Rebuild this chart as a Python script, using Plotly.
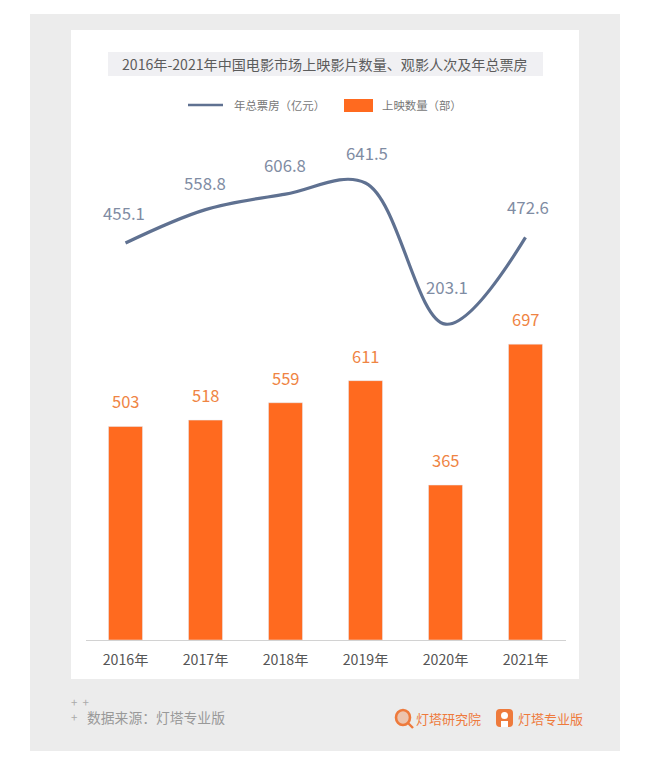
import plotly.graph_objects as go

W = 658
H = 768

years = ["2016年", "2017年", "2018年", "2019年", "2020年", "2021年"]
box_office = [455.1, 558.8, 606.8, 641.5, 203.1, 472.6]
film_count = [503, 518, 559, 611, 365, 697]
title_text = "2016年-2021年中国电影市场上映影片数量、观影人次及年总票房"
line_name = "年总票房（亿元）"
bar_name = "上映数量（部）"
source_text = "数据来源：灯塔专业版"
brand_names = ["灯塔研究院", "灯塔专业版"]

FONT = "Noto Sans CJK SC"
ORANGE = "#ff6a1f"
SLATE = "#5f7191"
BRAND = "#ee7a3c"

# the line labels are not all the same distance from the curve
label_dx = [-2, -1, -1, 1, 1, 2]
label_dy = [30, 27, 29, 30, 37, 30]


def px(x):
    return x / W


def py(y):
    return 1 - y / H


def rect(x0, y0, x1, y1, color):
    return dict(type="rect", xref="paper", yref="paper", x0=px(x0), x1=px(x1), y0=py(y0), y1=py(y1),
                fillcolor=color, line_width=0, layer="below")


def note(x, y, text, size, color, anchor="left"):
    return dict(xref="paper", yref="paper", x=px(x), y=py(y), text=text, showarrow=False, xanchor=anchor,
                align=anchor, yanchor="middle", font=dict(family=FONT, size=size, color=color))


def rounded(x0, y0, x1, y1, r):
    # rounded square for the second logo
    p = [f"M{px(x0 + r)},{py(y0)}", f"L{px(x1 - r)},{py(y0)}", f"Q{px(x1)},{py(y0)} {px(x1)},{py(y0 + r)}",
         f"L{px(x1)},{py(y1 - r)}", f"Q{px(x1)},{py(y1)} {px(x1 - r)},{py(y1)}", f"L{px(x0 + r)},{py(y1)}",
         f"Q{px(x0)},{py(y1)} {px(x0)},{py(y1 - r)}", f"L{px(x0)},{py(y0 + r)}",
         f"Q{px(x0)},{py(y0)} {px(x0 + r)},{py(y0)}", "Z"]
    return " ".join(p)


fig = go.Figure()
fig.add_trace(go.Bar(x=years, y=film_count, name=bar_name, marker_color=ORANGE, showlegend=False, yaxis="y"))
fig.add_trace(go.Scatter(x=years, y=box_office, name=line_name, mode="lines", showlegend=False, yaxis="y2",
                         line=dict(color=SLATE, width=3.2, shape="spline", smoothing=1.0)))

annotations = []
for year, value, dx, dy in zip(years, box_office, label_dx, label_dy):
    annotations.append(dict(x=year, y=value, xref="x", yref="y2", xshift=dx, yshift=dy, text=str(value),
                            showarrow=False, yanchor="middle",
                            font=dict(family=FONT, size=16.8, color="#7f8ca3")))
for year, value in zip(years, film_count):
    annotations.append(dict(x=year, y=value, xref="x", yref="y", yshift=25, text=str(value), showarrow=False,
                            yanchor="middle", font=dict(family=FONT, size=16.5, color="#ef8443")))

annotations += [
    note(325, 64, title_text, 14.1, "#5c5c5c", "center"),
    note(231.5, 105, line_name, 11.4, "#777777"),
    note(379.5, 105, bar_name, 11.4, "#777777"),
    # the plus marks share one text block so the two rows do not collide
    note(69, 709.5, "+&nbsp;&nbsp;+<br>+", 11.5, "#aaaaaa"),
    note(85, 717, source_text, 13.8, "#999999"),
    note(414, 718, brand_names[0], 13, BRAND),
    note(516, 718, brand_names[1], 13, BRAND),
]

shapes = [
    rect(30, 14, 620, 751, "#ececec"),
    rect(71, 30, 579, 679, "#ffffff"),
    rect(108, 52, 543, 76, "#f0f0f3"),
    dict(type="line", xref="paper", yref="paper", x0=px(188), x1=px(223), y0=py(105), y1=py(105),
         line=dict(color=SLATE, width=2.4)),
    rect(344, 99, 373, 112, ORANGE),
    # logos
    dict(type="circle", xref="paper", yref="paper", x0=px(396), x1=px(410), y0=py(710), y1=py(725),
         fillcolor="rgba(238,122,60,0.35)", line=dict(color=BRAND, width=2.6)),
    dict(type="line", xref="paper", yref="paper", x0=px(408), x1=px(413), y0=py(723), y1=py(728),
         line=dict(color=BRAND, width=2.4)),
    dict(type="path", xref="paper", yref="paper", path=rounded(496, 709, 513, 727, 4), fillcolor=BRAND, line_width=0),
    dict(type="circle", xref="paper", yref="paper", x0=px(501), x1=px(508), y0=py(712), y1=py(719),
         fillcolor="#ffffff", line_width=0),
    dict(type="rect", xref="paper", yref="paper", x0=px(501), x1=px(508), y0=py(721), y1=py(727),
         fillcolor="#ffffff", line_width=0),
]

fig.update_layout(
    width=W,
    height=H,
    margin=dict(l=0, r=0, t=0, b=0),
    paper_bgcolor="#ffffff",
    plot_bgcolor="rgba(0,0,0,0)",
    autosize=False,
    showlegend=False,
    bargap=0.575,
    shapes=shapes,
    annotations=annotations,
    xaxis=dict(domain=[px(85.5), px(565.5)], type="category", range=[-0.5, 5.5], showgrid=False, zeroline=False,
               showline=True, linecolor="#d2d2d2", linewidth=1.2, ticks="", ticklabelstandoff=7,
               tickfont=dict(family=FONT, size=14.2, color="#555555")),
    yaxis=dict(domain=[py(640), py(120)], range=[0, 1225], visible=False),
    yaxis2=dict(domain=[py(640), py(120)], range=[-777.8, 837.1], overlaying="y", visible=False),
)

fig.write_html("out.html", post_script="document.body.style.margin='0';", config=dict(displayModeBar=False))
